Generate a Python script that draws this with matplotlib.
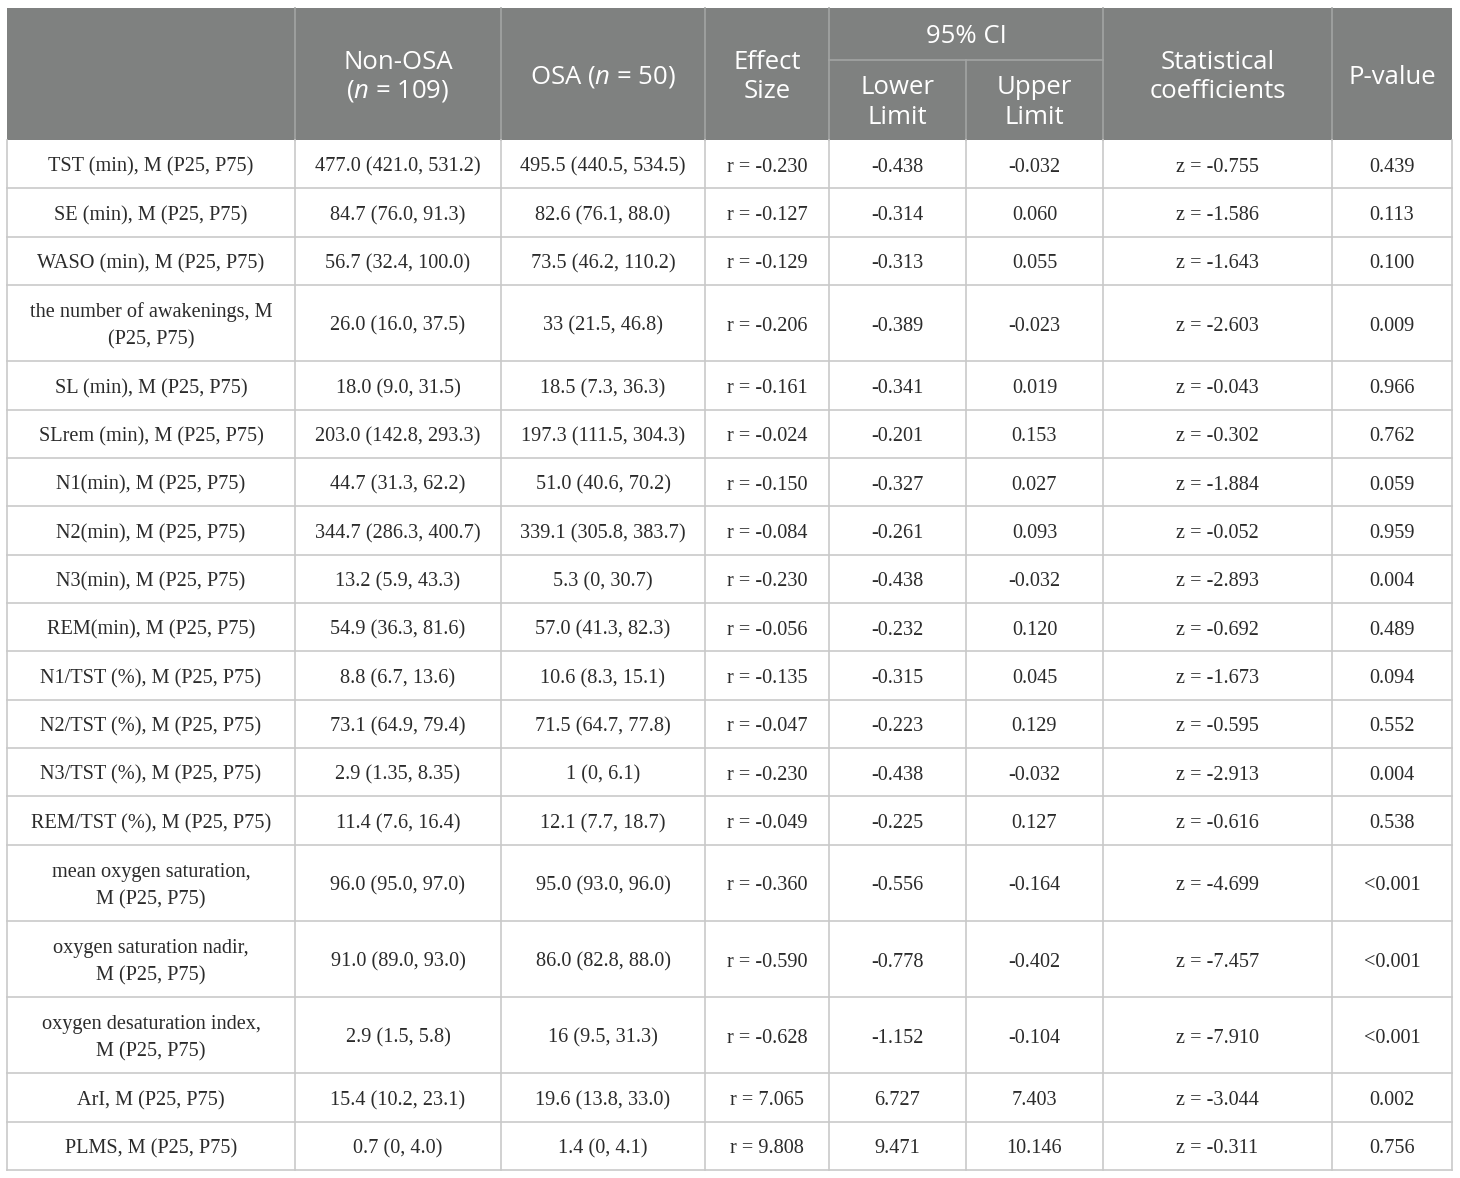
import matplotlib
matplotlib.use("Agg")
import matplotlib.pyplot as plt
from matplotlib.patches import Rectangle

plt.rcParams['mathtext.fontset'] = 'custom'
plt.rcParams['mathtext.rm'] = 'Open Sans'
plt.rcParams['mathtext.it'] = 'Open Sans:italic'

# ---------------- data ----------------
variables = [
    "TST (min), M (P25, P75)",
    "SE (min), M (P25, P75)",
    "WASO (min), M (P25, P75)",
    "the number of awakenings, M\n(P25, P75)",
    "SL (min), M (P25, P75)",
    "SLrem (min), M (P25, P75)",
    "N1(min), M (P25, P75)",
    "N2(min), M (P25, P75)",
    "N3(min), M (P25, P75)",
    "REM(min), M (P25, P75)",
    "N1/TST (%), M (P25, P75)",
    "N2/TST (%), M (P25, P75)",
    "N3/TST (%), M (P25, P75)",
    "REM/TST (%), M (P25, P75)",
    "mean oxygen saturation,\nM (P25, P75)",
    "oxygen saturation nadir,\nM (P25, P75)",
    "oxygen desaturation index,\nM (P25, P75)",
    "ArI, M (P25, P75)",
    "PLMS, M (P25, P75)",
]
non_osa = ["477.0 (421.0, 531.2)", "84.7 (76.0, 91.3)", "56.7 (32.4, 100.0)",
           "26.0 (16.0, 37.5)", "18.0 (9.0, 31.5)", "203.0 (142.8, 293.3)",
           "44.7 (31.3, 62.2)", "344.7 (286.3, 400.7)", "13.2 (5.9, 43.3)",
           "54.9 (36.3, 81.6)", "8.8 (6.7, 13.6)", "73.1 (64.9, 79.4)",
           "2.9 (1.35, 8.35)", "11.4 (7.6, 16.4)", "96.0 (95.0, 97.0)",
           "91.0 (89.0, 93.0)", "2.9 (1.5, 5.8)", "15.4 (10.2, 23.1)",
           "0.7 (0, 4.0)"]
osa = ["495.5 (440.5, 534.5)", "82.6 (76.1, 88.0)", "73.5 (46.2, 110.2)",
       "33 (21.5, 46.8)", "18.5 (7.3, 36.3)", "197.3 (111.5, 304.3)",
       "51.0 (40.6, 70.2)", "339.1 (305.8, 383.7)", "5.3 (0, 30.7)",
       "57.0 (41.3, 82.3)", "10.6 (8.3, 15.1)", "71.5 (64.7, 77.8)",
       "1 (0, 6.1)", "12.1 (7.7, 18.7)", "95.0 (93.0, 96.0)",
       "86.0 (82.8, 88.0)", "16 (9.5, 31.3)", "19.6 (13.8, 33.0)",
       "1.4 (0, 4.1)"]
effect_r = ["-0.230", "-0.127", "-0.129", "-0.206", "-0.161", "-0.024", "-0.150",
            "-0.084", "-0.230", "-0.056", "-0.135", "-0.047", "-0.230", "-0.049",
            "-0.360", "-0.590", "-0.628", "7.065", "9.808"]
ci_lower = ["-0.438", "-0.314", "-0.313", "-0.389", "-0.341", "-0.201", "-0.327",
            "-0.261", "-0.438", "-0.232", "-0.315", "-0.223", "-0.438", "-0.225",
            "-0.556", "-0.778", "-1.152", "6.727", "9.471"]
ci_upper = ["-0.032", "0.060", "0.055", "-0.023", "0.019", "0.153", "0.027",
            "0.093", "-0.032", "0.120", "0.045", "0.129", "-0.032", "0.127",
            "-0.164", "-0.402", "-0.104", "7.403", "10.146"]
z_stat = ["-0.755", "-1.586", "-1.643", "-2.603", "-0.043", "-0.302", "-1.884",
          "-0.052", "-2.893", "-0.692", "-1.673", "-0.595", "-2.913", "-0.616",
          "-4.699", "-7.457", "-7.910", "-3.044", "-0.311"]
p_value = ["0.439", "0.113", "0.100", "0.009", "0.966", "0.762", "0.059", "0.959",
           "0.004", "0.489", "0.094", "0.552", "0.004", "0.538", "<0.001",
           "<0.001", "<0.001", "0.002", "0.756"]

# ---------------- layout ----------------
W, H = 1460, 1178
col_x = [7, 295, 501, 705, 829, 966, 1103, 1332, 1452]
head_top, ci_split, head_bot = 8, 60, 140
row_single, row_double = 48.35, 76.2
line_gap = 28

header_bg = "#7f8180"
header_line = "#a3a5a4"
grid_col = "#c9c9c9"
text_col = "#2b2b2b"

fig = plt.figure(figsize=(W / 100, H / 100), dpi=100)
ax = fig.add_axes([0, 0, 1, 1])
ax.set_xlim(0, W)
ax.set_ylim(H, 0)
ax.axis("off")

hfont = dict(family="Open Sans", fontsize=18.5, color="white")
bfont = dict(family="Liberation Serif", fontsize=14.6, color=text_col)

# header background
ax.add_patch(Rectangle((col_x[0], head_top), col_x[-1] - col_x[0], head_bot - head_top,
                       facecolor=header_bg, edgecolor="none", zorder=1))
# header lines
for i, x in enumerate(col_x[1:-1], start=1):
    if i == 5:  # between lower and upper -> only below split
        ax.plot([x, x], [ci_split, head_bot], color=header_line, lw=1.2, zorder=2)
    else:
        ax.plot([x, x], [head_top, head_bot], color=header_line, lw=1.2, zorder=2)
ax.plot([col_x[4], col_x[6]], [ci_split, ci_split], color=header_line, lw=1.2, zorder=2)


def ctext(x, y, s, gap=line_gap, **kw):
    lines = s.split("\n")
    n = len(lines)
    for k, ln in enumerate(lines):
        yy = y + (k - (n - 1) / 2) * gap
        ax.text(x, yy, ln, ha="center", va="center", zorder=3, **kw)


def cx(i, j=None):
    j = i + 1 if j is None else j
    return (col_x[i] + col_x[j]) / 2

hy = (head_top + head_bot) / 2 + 3
ctext(cx(1), hy, "Non-OSA\n($n$ = 109)", gap=29, **hfont)
ctext(cx(2), hy, "OSA ($n$ = 50)", **hfont)
ctext(cx(3), hy, "Effect\nSize", gap=29, **hfont)
ctext(cx(4, 6), (head_top + ci_split) / 2 + 2.5, "95% CI", **hfont)
ctext(cx(4), (ci_split + head_bot) / 2 + 2.5, "Lower\nLimit", gap=29, **hfont)
ctext(cx(5), (ci_split + head_bot) / 2 + 2.5, "Upper\nLimit", gap=29, **hfont)
ctext(cx(6), hy, "Statistical\ncoefficients", gap=29, **hfont)
ctext(cx(7), hy, "P-value", **hfont)

# body
y = head_bot
for r in range(len(variables)):
    h = row_double if "\n" in variables[r] else row_single
    yc = y + h / 2 + 3
    cells = [variables[r], non_osa[r], osa[r], "r = " + effect_r[r], ci_lower[r],
             ci_upper[r], "z = " + z_stat[r], p_value[r]]
    for c, s in enumerate(cells):
        ctext(cx(c), yc, s, gap=27.5, **bfont)
    y += h
    ax.plot([col_x[0], col_x[-1]], [y, y], color=grid_col, lw=1.2, zorder=2)
body_bot = y
for x in col_x:
    ax.plot([x, x], [head_bot, body_bot], color=grid_col, lw=1.2, zorder=2)

fig.savefig("out.png", dpi=100, facecolor="white")
